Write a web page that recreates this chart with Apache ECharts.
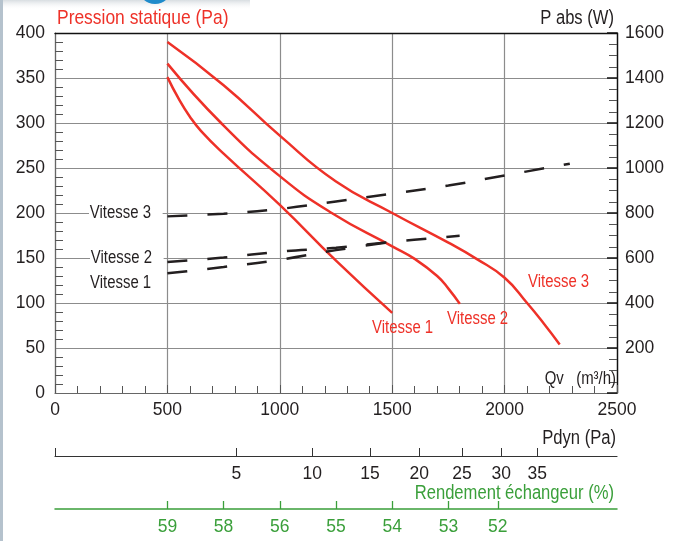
<!DOCTYPE html>
<html>
<head>
<meta charset="utf-8">
<script src="https://cdn.jsdelivr.net/npm/echarts@6/dist/echarts.min.js"></script>
<style>
  html, body { margin: 0; padding: 0; background: #fff; }
  #chart { width: 679px; height: 541px; }
</style>
</head>
<body>
<div id="chart"></div>
<script>
// pressure curves (Qv m3/h, Pa)
const vitesse1Pression = [[500, 351], [550, 327], [600, 307], [650, 291], [750, 266], [1000, 209], [1250, 147], [1500, 89]];
const vitesse2Pression = [[500, 366], [739, 300], [1000, 241], [1231, 200], [1500, 163], [1600, 149], [1700, 130], [1750, 116], [1801, 99]];
const vitesse3Pression = [[500, 390], [750, 342], [1000, 286], [1250, 235], [1500, 200], [1750, 167], [1875, 149], [2000, 128], [2100, 100], [2175, 77], [2245, 54]];

// absorbed power (Qv m3/h, W)
const vitesse1Puissance = [[500, 532], [750, 560], [1000, 592], [1250, 635], [1500, 672]];
const vitesse2Puissance = [[500, 582], [750, 602], [1000, 628], [1250, 646], [1500, 672], [1800, 699]];
const vitesse3Puissance = [[500, 785], [750, 797], [1000, 818], [1250, 851], [1500, 886], [1750, 922], [2000, 967], [2290, 1019]];

// secondary scales : position in Qv and the label shown
const pdynQv = [807, 1144, 1401, 1620, 1810, 1985, 2145];
const pdynLabels = ['5', '10', '15', '20', '25', '30', '35'];
const rendementQv = [500, 750, 1000, 1250, 1500, 1750, 1970];
const rendementLabels = ['59', '58', '56', '55', '54', '53', '52'];

const FONT = '"Liberation Sans", Arial, sans-serif';
const RED = '#ee3128';
const GREEN = '#3a9f3a';
const INK = '#231f20';
const GRID = '#8c8c8c';
const NARROW = 0.83; // condensed look

function lookup(values, labels) {
  return function (v) {
    const i = values.indexOf(v);
    return i < 0 ? '' : labels[i];
  };
}

const chart = echarts.init(document.getElementById('chart'));

const redLine = (name, data) => ({
  name: name,
  type: 'line',
  xAxisIndex: 0,
  yAxisIndex: 0,
  smooth: 0.5,
  symbol: 'none',
  lineStyle: { color: RED, width: 2.5 },
  data: data
});
const dashLine = (name, data) => ({
  name: name,
  type: 'line',
  xAxisIndex: 0,
  yAxisIndex: 1,
  smooth: 0.4,
  symbol: 'none',
  lineStyle: { color: INK, width: 2.5, type: [20, 20], cap: 'butt' },
  data: data
});

// text drawn condensed: scaled around its anchor point
const txt = (text, x, y, opt) => ({
  type: 'text',
  x: x,
  y: y,
  scaleX: NARROW,
  z: 100,
  style: Object.assign({
    text: text,
    x: 0,
    y: 0,
    fill: INK,
    font: '18px ' + FONT,
    align: 'left',
    verticalAlign: 'middle'
  }, opt || {})
});

const tickLabel = { color: INK, fontSize: 17.5, fontFamily: FONT };

chart.setOption({
  animation: false,
  backgroundColor: '#fff',
  grid: [
    { left: 55, top: 33, width: 562, height: 360, containLabel: false, outerBoundsMode: 'none' },
    { left: 55, top: 440, width: 562, height: 16, containLabel: false, outerBoundsMode: 'none' },
    { left: 55, top: 493, width: 562, height: 16, containLabel: false, outerBoundsMode: 'none' }
  ],
  xAxis: [
    {
      type: 'value', gridIndex: 0, min: 0, max: 2500, interval: 500,
      axisLine: { onZero: false, lineStyle: { color: '#666', width: 1.2 } },
      axisTick: { inside: true, length: 8, lineStyle: { color: '#555' } },
      minorTick: { show: true, splitNumber: 5, length: 7, lineStyle: { color: '#555' } },
      splitLine: { show: true, lineStyle: { color: GRID, width: 1.2 } },
      axisLabel: Object.assign({ margin: 8, formatter: v => String(v) }, tickLabel)
    },
    {
      type: 'value', gridIndex: 0, position: 'top', min: 0, max: 2500,
      axisLine: { onZero: false, lineStyle: { color: '#111', width: 1.4 } },
      axisTick: { show: false }, axisLabel: { show: false }, splitLine: { show: false }
    },
    {
      type: 'value', gridIndex: 1, min: 0, max: 2500,
      axisLine: { onZero: false, lineStyle: { color: '#333', width: 1.2 } },
      axisTick: { inside: true, length: 8, customValues: [0].concat(pdynQv), lineStyle: { color: '#333' } },
      axisLabel: Object.assign({ customValues: pdynQv, formatter: lookup(pdynQv, pdynLabels), margin: 9 }, tickLabel),
      splitLine: { show: false }
    },
    {
      type: 'value', gridIndex: 2, min: 0, max: 2500,
      axisLine: { onZero: false, lineStyle: { color: GREEN, width: 1.5 } },
      axisTick: { inside: true, length: 8, customValues: rendementQv, lineStyle: { color: GREEN, width: 1.3 } },
      axisLabel: Object.assign({ customValues: rendementQv, formatter: lookup(rendementQv, rendementLabels), margin: 9 }, tickLabel, { color: GREEN }),
      splitLine: { show: false }
    }
  ],
  yAxis: [
    {
      type: 'value', gridIndex: 0, min: 0, max: 400, interval: 50,
      axisLine: { show: true, onZero: false, lineStyle: { color: '#666', width: 1.2 } },
      axisTick: { show: false, inside: true },
      minorTick: { show: true, splitNumber: 5, length: 8, lineStyle: { color: '#555' } },
      splitLine: { show: true, lineStyle: { color: GRID, width: 1.2 } },
      axisLabel: Object.assign({ margin: 10, formatter: v => String(v) }, tickLabel)
    },
    {
      type: 'value', gridIndex: 0, position: 'right', min: 0, max: 1600, interval: 200,
      axisLine: { show: true, onZero: false, lineStyle: { color: '#111', width: 1.4 } },
      axisTick: { show: true, inside: true, length: 10, lineStyle: { color: '#111', width: 1.5 } },
      minorTick: { show: true, splitNumber: 4, length: 8, lineStyle: { color: '#555' } },
      splitLine: { show: false },
      axisLabel: Object.assign({ margin: 8, formatter: v => (v === 0 ? '' : String(v)) }, tickLabel)
    },
    { type: 'value', gridIndex: 1, show: false, min: 0, max: 1 },
    { type: 'value', gridIndex: 2, show: false, min: 0, max: 1 }
  ],
  series: [
    redLine('Vitesse 1', vitesse1Pression),
    redLine('Vitesse 2', vitesse2Pression),
    redLine('Vitesse 3', vitesse3Pression),
    dashLine('P Vitesse 1', vitesse1Puissance),
    dashLine('P Vitesse 2', vitesse2Puissance),
    dashLine('P Vitesse 3', vitesse3Puissance)
  ],
  graphic: [
    // page decoration
    { type: 'rect', x: 0, y: 0, shape: { width: 250, height: 10 },
      style: { fill: new echarts.graphic.LinearGradient(0, 0, 0, 1, [{ offset: 0, color: '#d8dde1' }, { offset: 1, color: 'rgba(255,255,255,0)' }]) } },
    { type: 'circle', shape: { cx: 155, cy: -13, r: 17 }, style: { fill: '#1f8bcb' } },
    { type: 'rect', x: 0, y: 0, shape: { width: 3, height: 541 }, style: { fill: '#b5c2cd' } },
    // axis titles
    txt('Pression statique (Pa)', 57, 18, { fill: RED, font: '21px ' + FONT }),
    txt('P abs (W)', 614, 18, { font: '20px ' + FONT, align: 'right' }),
    txt('Qv   (m\u00b3/h)', 616, 379, { font: '18px ' + FONT, align: 'right' }),
    txt('Pdyn (Pa)', 616, 438, { font: '20px ' + FONT, align: 'right' }),
    txt('Rendement \u00e9changeur (%)', 614, 493, { fill: GREEN, font: '20px ' + FONT, align: 'right' }),
    // curve labels
    txt('Vitesse 3', 89, 213, { backgroundColor: '#fff', padding: [1, 14, 1, 1] }),
    txt('Vitesse 2', 90, 258, { backgroundColor: '#fff', padding: [1, 14, 1, 1] }),
    txt('Vitesse 1', 90, 283),
    txt('Vitesse 1', 372, 328, { fill: RED }),
    txt('Vitesse 2', 447, 319, { fill: RED }),
    txt('Vitesse 3', 528, 282, { fill: RED })
  ]
});
</script>
</body>
</html>
